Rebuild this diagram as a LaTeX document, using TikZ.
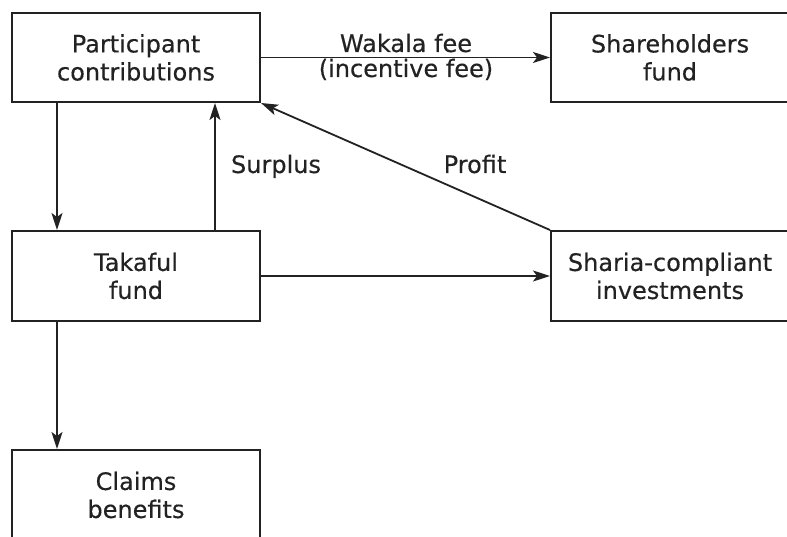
\documentclass[tikz,border=0pt]{standalone}
\usepackage{fontspec}
\setmainfont{DejaVu Sans}[FakeBold=0.35]
\usetikzlibrary{arrows.meta}
\definecolor{ink}{HTML}{222222}
\tikzset{
  box/.style={draw=ink, line width=2pt, rectangle, align=center, text=ink,
    font=\fontsize{24pt}{28pt}\selectfont, inner sep=0pt},
  lbl/.style={text=ink, font=\fontsize{24pt}{28pt}\selectfont, inner sep=0pt},
  arr/.style={draw=ink, line width=1.8pt, -{Stealth[length=17pt,width=11pt,inset=4pt]}}
}
\begin{document}
\begin{tikzpicture}[x=1pt,y=1pt]
\useasboundingbox (0,0) rectangle (787,-537);
\clip (0,0) rectangle (787,-537);
\fill[white] (0,0) rectangle (787,-537);
\node[box, minimum width=248pt, minimum height=89pt] (pc) at (136,-57.5) {Participant\\contributions};
\node[box, minimum width=238pt, minimum height=89pt] (sh) at (670,-57.5) {Shareholders\\fund};
\node[box, minimum width=248pt, minimum height=90pt] (tk) at (136,-276) {Takaful\\fund};
\node[box, minimum width=238pt, minimum height=90pt] (sc) at (670,-276) {Sharia-compliant\\investments};
\node[box, minimum width=248pt, minimum height=90pt] (cb) at (136,-495) {Claims\\benefits};
\draw[arr] (pc) -- (sh);
\draw[arr] ([xshift=46pt]pc.south west) -- ([xshift=46pt]tk.north west);
\draw[arr] ([xshift=204pt]tk.north west) -- ([xshift=204pt]pc.south west);
\draw[arr] (sc.north west) -- (pc.south east);
\draw[arr] (tk) -- (sc);
\draw[arr] ([xshift=46pt]tk.south west) -- ([xshift=46pt]cb.north west);
\node[lbl, anchor=base] (wf) at (406,-52) {Wakala fee};
\node[lbl, anchor=base] (inc) at (406,-77) {(incentive fee)};
\node[lbl, anchor=base] (sur) at (276,-173) {Surplus};
\node[lbl, anchor=base] (pro) at (475,-173) {Profit};
\end{tikzpicture}
\end{document}
